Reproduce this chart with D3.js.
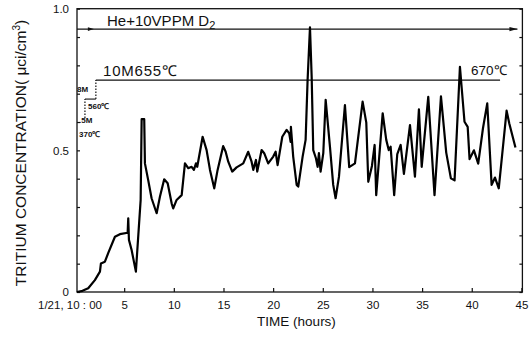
<!DOCTYPE html>
<html>
<head>
<meta charset="utf-8">
<script src="https://cdn.jsdelivr.net/npm/d3@7"></script>
<style>
  body { margin: 0; background: #fff; }
  svg { display: block; font-family: "Liberation Sans", Arial, sans-serif; }
</style>
</head>
<body>
<svg id="chart" width="532" height="339"></svg>
<script>
// tritium concentration (hours after 1/21 10:00, uCi/cm3)
const hours = [0.25, 0.8, 1.38, 2.05, 2.56, 2.66, 3.06, 3.39, 4.07, 4.57, 5.35, 5.41, 5.48, 5.75, 6.18,
  6.66, 6.76, 7.02, 7.09, 7.42, 7.76, 8.27, 8.6, 9.03, 9.38, 9.78, 9.94, 10.28, 10.79, 11.12,
  11.45, 11.79, 12.02, 12.23, 12.36, 12.9, 13.3, 13.64, 14.07, 14.41, 14.97, 15.22, 15.48,
  15.88, 16.32, 16.99, 17.49, 17.83, 18.0, 18.27, 18.4, 18.84, 19.1, 19.5, 20.01, 20.25, 20.45,
  20.92, 21.36, 21.62, 21.76, 21.79, 22.02, 22.37, 22.53, 22.97, 23.27, 23.47, 23.71, 23.88,
  24.04, 24.31, 24.48, 24.61, 24.78, 25.05, 25.29, 25.72, 26.05, 26.29, 26.63, 27.23, 27.66,
  28.24, 29.01, 29.38, 29.58, 29.95, 30.22, 30.38, 31.03, 31.39, 31.64, 31.83, 32.19, 32.5,
  32.84, 33.17, 33.78, 34.28, 34.68, 34.96, 35.62, 36.25, 36.9, 37.43, 37.9, 38.27, 38.81,
  39.27, 39.59, 39.78, 40.22, 40.65, 41.13, 41.56, 42.0, 42.34, 42.72, 43.51, 43.78, 44.4];
const conc = [0.0, 0.004, 0.013, 0.042, 0.072, 0.101, 0.107, 0.137, 0.195, 0.204, 0.209, 0.26, 0.184, 0.148, 0.072,
  0.325, 0.61, 0.61, 0.454, 0.395, 0.331, 0.278, 0.336, 0.398, 0.384, 0.313, 0.295, 0.325, 0.342, 0.454,
  0.437, 0.442, 0.431, 0.454, 0.442, 0.548, 0.501, 0.431, 0.366, 0.431, 0.515, 0.495, 0.46,
  0.425, 0.44, 0.454, 0.495, 0.46, 0.431, 0.466, 0.425, 0.501, 0.49, 0.454, 0.478, 0.495, 0.448,
  0.548, 0.572, 0.56, 0.53, 0.583, 0.478, 0.378, 0.372, 0.478, 0.537, 0.748, 0.934, 0.76,
  0.501, 0.472, 0.442, 0.49, 0.425, 0.49, 0.678, 0.513, 0.378, 0.331, 0.407, 0.66, 0.441,
  0.454, 0.672, 0.598, 0.389, 0.445, 0.519, 0.342, 0.631, 0.537, 0.501, 0.513, 0.342, 0.487,
  0.519, 0.417, 0.589, 0.407, 0.645, 0.442, 0.689, 0.342, 0.691, 0.492, 0.401, 0.394, 0.795,
  0.601, 0.583, 0.469, 0.5, 0.453, 0.578, 0.666, 0.378, 0.404, 0.366, 0.64, 0.595, 0.51];

const xTicks = [5, 10, 15, 20, 25, 30, 35, 40, 45];
const xTickLabels = ['5', '10', '15', '20', '25', '30', '35', '40', '45'];
const yTicks = [0, 0.5, 1.0];
const yTickLabels = ['0', '0.5', '1.0'];
const yMinorTicks = [0, 0.1, 0.2, 0.3, 0.4, 0.5, 0.6, 0.7, 0.8, 0.9, 1.0];

// flow / temperature program steps
const stepHours = [1.05, 1.05, 2.15, 2.15, 42.85];
const stepConc = [0.614, 0.681, 0.681, 0.748, 0.748];
const gasHours = [0.25, 44.6];
const gasConc = [0.928, 0.928];

const svg = d3.select('#chart');
const x = d3.scaleLinear().domain([0.25, 45.1]).range([77, 522.4]);
const y = d3.scaleLinear().domain([0, 1]).range([292, 8.7]);

// frame
svg.append('rect')
  .attr('x', x.range()[0]).attr('y', y.range()[1])
  .attr('width', x.range()[1] - x.range()[0])
  .attr('height', y.range()[0] - y.range()[1])
  .attr('fill', 'none').attr('stroke', '#111').attr('stroke-width', 1.3);

// inward tick marks
const tickStyle = g => {
  g.select('.domain').remove();
  g.selectAll('line').attr('stroke', '#111').attr('stroke-width', 1.2);
};
svg.append('g').attr('transform', `translate(${x.range()[0]},0)`)
  .call(d3.axisLeft(y).tickValues(yMinorTicks).tickSize(-3).tickFormat(''))
  .call(tickStyle);
svg.append('g').attr('transform', `translate(${x.range()[1]},0)`)
  .call(d3.axisRight(y).tickValues(yMinorTicks).tickSize(-3).tickFormat(''))
  .call(tickStyle);
svg.append('g').attr('transform', `translate(0,${y.range()[0]})`)
  .call(d3.axisBottom(x).tickValues(xTicks).tickSize(-4).tickFormat(''))
  .call(tickStyle);

// tick labels
const labelStyle = g => {
  g.select('.domain').remove();
  g.selectAll('line').remove();
  g.selectAll('text').attr('font-size', 11.5).attr('fill', '#111')
    .attr('font-family', '"Liberation Sans", Arial, sans-serif');
};
svg.append('g').attr('transform', `translate(${x.range()[0]},0)`)
  .call(d3.axisLeft(y).tickValues(yTicks).tickSize(0).tickPadding(8)
    .tickFormat((d, i) => yTickLabels[i]))
  .call(labelStyle);
svg.append('g').attr('transform', `translate(0,${y.range()[0]})`)
  .call(d3.axisBottom(x).tickValues(xTicks).tickSize(0).tickPadding(9)
    .tickFormat((d, i) => xTickLabels[i]))
  .call(labelStyle);
svg.append('text')
  .attr('x', 38).attr('y', 308.8)
  .attr('font-size', 11.5).attr('fill', '#111')
  .text('1/21, 10 : 00');

// axis titles
svg.append('text')
  .attr('x', 296.5).attr('y', 325.5)
  .attr('text-anchor', 'middle').attr('font-size', 13.5).attr('fill', '#111')
  .text('TIME (hours)');
const yTitle = svg.append('text')
  .attr('transform', 'translate(26,153) rotate(-90)')
  .attr('text-anchor', 'middle').attr('font-size', 15.5).attr('fill', '#111');
yTitle.append('tspan').text('TRITIUM CONCENTRATION( \u03bcci/cm');
yTitle.append('tspan').attr('font-size', 10).attr('dy', -6).text('3');
yTitle.append('tspan').attr('dy', 6).text(')');

// gas line with arrows
const lineGen = d3.line().x(d => x(d[0])).y(d => y(d[1]));
svg.append('path')
  .attr('d', lineGen(d3.zip(gasHours, gasConc)))
  .attr('fill', 'none').attr('stroke', '#111').attr('stroke-width', 1.1);
const arrowAt = (px, py, len, half) => {
  svg.append('path')
    .attr('d', `M${px},${py} L${px - len},${py - half} L${px - len},${py + half} Z`)
    .attr('fill', '#111');
};
arrowAt(x(gasHours[1]), y(gasConc[1]), 8, 2.2);
arrowAt(x(1.95), y(gasConc[0]), 6, 1.8);

const gasLabel = svg.append('text')
  .attr('x', 107).attr('y', 26)
  .attr('font-size', 15).attr('fill', '#111');
gasLabel.append('tspan').text('He+10VPPM D');
gasLabel.append('tspan').attr('font-size', 11).attr('dy', 3).text('2');

// temperature steps
const stepPts = d3.zip(stepHours, stepConc);
stepPts.slice(0, -1).forEach((p, i) => {
  const q = stepPts[i + 1];
  const vertical = p[0] === q[0];
  svg.append('line')
    .attr('x1', x(p[0])).attr('y1', y(p[1]))
    .attr('x2', x(q[0])).attr('y2', y(q[1]))
    .attr('stroke', '#111').attr('stroke-width', vertical ? 1.2 : 1.1)
    .attr('stroke-dasharray', vertical ? '1.5,1.5' : null);
});

const small = [
  { t: '8M', px: 77, py: 92 },
  { t: '560\u2103', px: 88, py: 108.5 },
  { t: '.5M', px: 79, py: 123 },
  { t: '370\u2103', px: 79, py: 136.5 }
];
svg.selectAll('.small-label').data(small).enter().append('text')
  .attr('class', 'small-label')
  .attr('x', d => d.px).attr('y', d => d.py)
  .attr('font-size', 8).attr('font-weight', 'bold').attr('fill', '#111')
  .text(d => d.t);

svg.append('text').attr('x', 103).attr('y', 75.5)
  .attr('font-size', 15).attr('letter-spacing', 0.8).attr('fill', '#111').text('10M655\u2103');
svg.append('text').attr('x', 471).attr('y', 74.5)
  .attr('font-size', 13.5).attr('fill', '#111').text('670\u2103');

// concentration trace
svg.append('path')
  .datum(d3.zip(hours, conc))
  .attr('d', lineGen)
  .attr('fill', 'none').attr('stroke', '#000')
  .attr('stroke-width', 2.2).attr('stroke-linejoin', 'round');
</script>
</body>
</html>
